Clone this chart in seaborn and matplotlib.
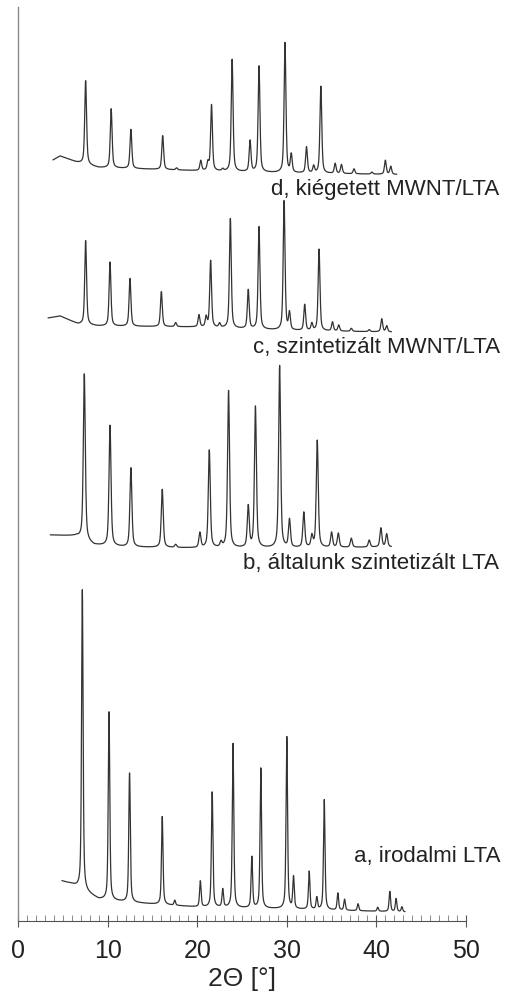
import numpy as np
import pandas as pd
import matplotlib
matplotlib.use("Agg")
import matplotlib.pyplot as plt
import seaborn as sns
from matplotlib.ticker import MultipleLocator

# --- adatok ---
labels = ["a, irodalmi LTA", "b, általunk szintetizált LTA",
          "c, szintetizált MWNT/LTA", "d, kiégetett MWNT/LTA"]
offsets = [12, 374, 594, 751]
ranges = [(4.9, 43.2), (3.6, 41.7), (3.35, 41.7), (3.9, 42.3)]

# háttér (alapvonal) pontjai
base_x_a = [4.9, 6.0, 7.0, 9.0, 12.0, 15.0, 20.0, 30.0, 43.2]
base_y_a = [28, 25, 20, 10, 7, 5, 2, 0, -3]
base_x_b = [3.6, 6.5, 8.5, 12.0, 20.0, 30.0, 41.7]
base_y_b = [12, 11, 2, 0, -1, -1, 0]
base_x_c = [3.35, 4.7, 6.7, 9.0, 20.0, 30.0, 41.7]
base_y_c = [9, 11, 3, 1, 0, -3.5, -5]
base_x_d = [3.9, 4.7, 6.5, 9.0, 20.0, 30.0, 42.3]
base_y_d = [10, 14, 8, 2.5, -0.7, -3, -4.5]

# reflexiók helye és magassága
pos_a = [7.18, 10.16, 12.45, 16.1, 17.5, 20.35, 21.67, 22.85, 24.0, 26.1, 27.1,
         30.0, 30.75, 32.5, 33.35, 34.18, 35.7, 36.45, 37.95, 40.15, 41.5, 42.2, 42.85]
h_a = [300, 188, 130, 88, 5, 26, 116, 18, 164, 51, 140,
       172, 32, 38, 12, 110, 17, 11, 7, 4, 20, 13, 5]
pos_b = [7.4, 10.27, 12.6, 16.1, 17.6, 20.3, 21.35, 22.66, 23.5, 25.7, 26.5,
         29.2, 30.3, 31.9, 32.8, 33.4, 35.0, 35.75, 37.2, 39.2, 40.5, 41.15]
h_b = [166, 121, 79, 58, 3, 15, 98, 5, 157, 41, 141,
       182, 28, 35, 11, 107, 15, 14, 9, 7, 19, 13]
pos_c = [7.55, 10.27, 12.5, 16.0, 17.6, 20.2, 21.0, 21.5, 22.5, 23.7, 25.7,
         26.9, 29.7, 30.3, 32.0, 32.8, 33.6, 35.1, 35.8, 37.2, 39.2, 40.6, 41.15]
h_c = [84, 64, 48, 35, 4, 12, 10, 67, 4, 110, 39,
       103, 130, 17, 26, 7, 82, 9, 6, 3, 2, 13, 6]
pos_d = [7.55, 10.4, 12.6, 16.15, 17.7, 20.4, 21.2, 21.6, 22.85, 23.9, 25.9,
         26.9, 29.8, 30.5, 32.2, 33.0, 33.8, 35.4, 36.1, 37.5, 39.5, 41.0, 41.6]
h_d = [84, 59, 39, 34, 2, 10, 8, 66, 2, 112, 31,
       106, 130, 18, 26, 7, 87, 10, 9, 5, 2, 14, 8]
widths = [0.2, 0.26, 0.24, 0.24]

bases = [(base_x_a, base_y_a), (base_x_b, base_y_b), (base_x_c, base_y_c), (base_x_d, base_y_d)]
peaks = [(pos_a, h_a), (pos_b, h_b), (pos_c, h_c), (pos_d, h_d)]


def profile(x, pos, h, w, eta=0.55):
    y = np.zeros_like(x)
    for p, a in zip(pos, h):
        d = (x - p) / (w / 2)
        y += a * (eta / (1 + d ** 2) + (1 - eta) * np.exp(-np.log(2) * d ** 2))
    return y


frames = []
for i in range(4):
    x = np.arange(ranges[i][0], ranges[i][1], 0.02)
    y = offsets[i] + np.interp(x, *bases[i]) + profile(x, *peaks[i], widths[i])
    frames.append(pd.DataFrame({"2theta": x, "I": y, "minta": labels[i]}))
df = pd.concat(frames, ignore_index=True)

sns.set_style("ticks")
plt.rcParams['font.family'] = ['Liberation Sans', 'DejaVu Sans']

fig = plt.figure(figsize=(5.07, 9.95), dpi=100)
ax = fig.add_axes([18 / 507, 73 / 995, 448 / 507, 914 / 995])

sns.lineplot(data=df, x="2theta", y="I", hue="minta", units="minta", estimator=None,
             palette=["#333333"] * 4, linewidth=0.9, legend=False, ax=ax, sort=False)

# feliratok a görbéknél
text_pos = [(37.5, 65), (25.1, 358), (26.2, 574), (28.2, 732)]
for (tx, ty), lab in zip(text_pos, labels):
    ax.text(tx, ty, lab, fontsize=16, va="center", ha="left", color="#222222", clip_on=False)

ax.set_xlim(0, 50)
ax.set_ylim(0, 914)
ax.set_yticks([])
ax.set_ylabel("")
ax.set_xlabel("2Θ [°]", fontsize=19, labelpad=3)
ax.xaxis.set_major_locator(MultipleLocator(10))
ax.xaxis.set_minor_locator(MultipleLocator(1))
ax.tick_params(axis="x", which="major", direction="inout", length=8, width=0.8,
               labelsize=18, pad=8, color="#555555", labelcolor="#222222")
ax.tick_params(axis="x", which="minor", direction="in", length=4, width=0.6, color="#777777")
for s in ["top", "right"]:
    ax.spines[s].set_visible(False)
ax.spines["left"].set_color("#8a8a8a")
ax.spines["left"].set_linewidth(1.0)
ax.spines["bottom"].set_color("#555555")
ax.spines["bottom"].set_linewidth(0.8)

fig.savefig("out.png", dpi=100)
